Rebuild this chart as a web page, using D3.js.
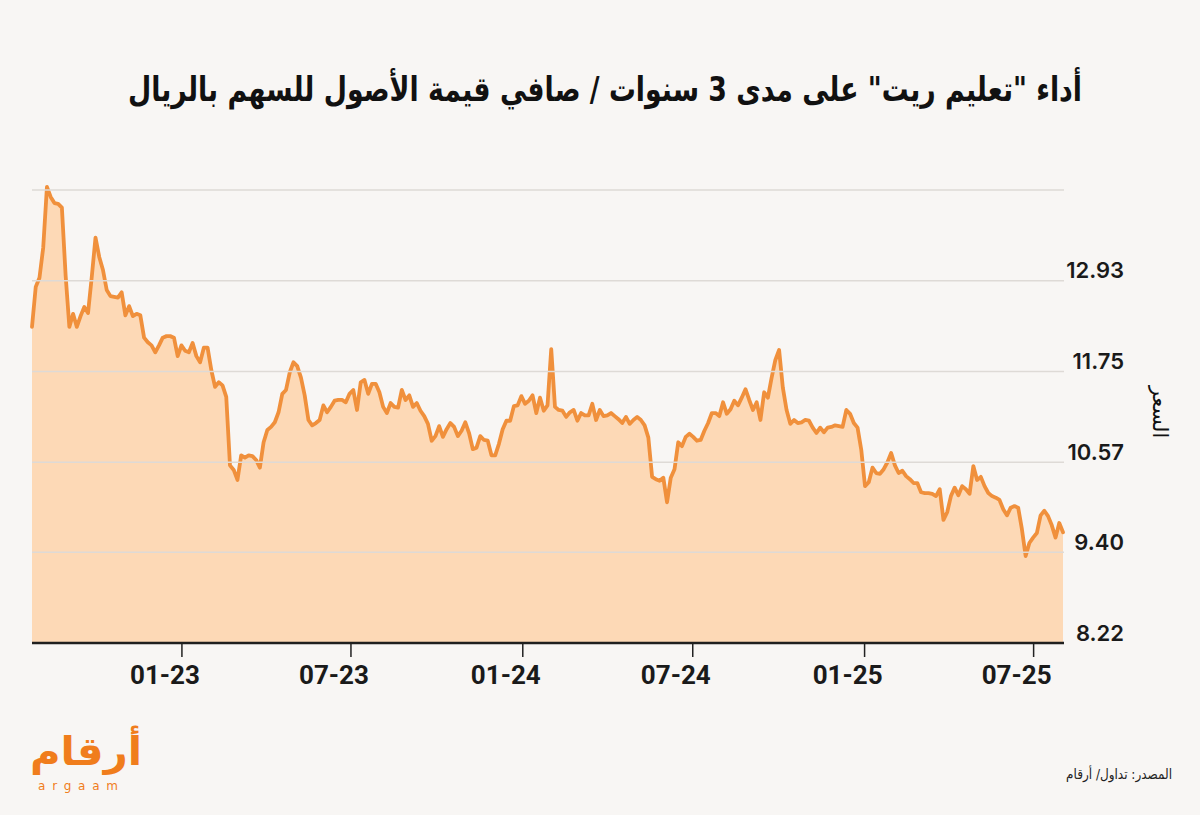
<!DOCTYPE html>
<html>
<head>
<meta charset="utf-8">
<script src="https://cdn.jsdelivr.net/npm/d3@7"></script>
<style>
  html, body { margin: 0; padding: 0; background: #f8f6f4; }
  svg { display: block; }
</style>
</head>
<body>
<div id="main"></div>
<script>
// texts
const title = 'أداء "تعليم ريت" على مدى 3 سنوات / صافي قيمة الأصول للسهم بالريال';
const yTitle = "السعر";
const source = "المصدر: تداول/ أرقام";
const logoText = "أرقام";
const logoLatin = "argaam";

// price samples, one every 4 days from 25 Jul 2022
const startDate = new Date(2022, 6, 25);
const stepDays = 4;
const prices = [
  12.33, 12.85, 12.97, 13.36, 14.15, 14.02, 13.94, 13.93, 13.88, 13.00,
  12.33, 12.50, 12.33, 12.47, 12.59, 12.51, 12.98, 13.49, 13.24, 13.07,
  12.81, 12.73, 12.72, 12.71, 12.78, 12.48, 12.60, 12.47, 12.50, 12.48,
  12.19, 12.13, 12.09, 12.00, 12.09, 12.19, 12.21, 12.21, 12.19, 11.95,
  12.09, 12.02, 12.00, 12.12, 11.95, 11.87, 12.06, 12.06, 11.77, 11.55,
  11.61, 11.57, 11.42, 10.53, 10.47, 10.34, 10.66, 10.63, 10.66, 10.65,
  10.60, 10.50, 10.83, 10.99, 11.03, 11.09, 11.22, 11.46, 11.51, 11.74,
  11.87, 11.82, 11.67, 11.44, 11.12, 11.05, 11.08, 11.12, 11.31, 11.22,
  11.29, 11.37, 11.38, 11.38, 11.35, 11.46, 11.51, 11.25, 11.61, 11.64,
  11.46, 11.59, 11.59, 11.48, 11.29, 11.21, 11.34, 11.29, 11.28, 11.51,
  11.38, 11.44, 11.29, 11.34, 11.24, 11.17, 11.07, 10.85, 10.91, 11.04,
  10.90, 11.00, 11.08, 11.03, 10.91, 10.98, 11.09, 10.95, 10.74, 10.76,
  10.91, 10.86, 10.85, 10.66, 10.66, 10.81, 11.00, 11.11, 11.11, 11.30,
  11.31, 11.43, 11.33, 11.37, 11.44, 11.21, 11.41, 11.24, 11.31, 12.04,
  11.29, 11.25, 11.24, 11.16, 11.22, 11.25, 11.11, 11.21, 11.18, 11.18,
  11.33, 11.12, 11.25, 11.17, 11.18, 11.21, 11.17, 11.13, 11.08, 11.16,
  11.07, 11.12, 11.16, 11.12, 11.05, 10.89, 10.38, 10.35, 10.33, 10.37,
  10.05, 10.37, 10.48, 10.83, 10.78, 10.90, 10.94, 10.90, 10.85, 10.86,
  10.98, 11.08, 11.21, 11.21, 11.17, 11.35, 11.20, 11.26, 11.37, 11.31,
  11.41, 11.52, 11.38, 11.25, 11.35, 11.12, 11.48, 11.41, 11.67, 11.90,
  12.03, 11.54, 11.25, 11.07, 11.12, 11.08, 11.09, 11.12, 11.11, 11.02,
  10.95, 11.02, 10.96, 11.02, 11.03, 11.05, 11.04, 11.03, 11.25, 11.20,
  11.08, 11.02, 10.73, 10.26, 10.31, 10.50, 10.43, 10.42, 10.48, 10.57,
  10.69, 10.53, 10.43, 10.46, 10.39, 10.35, 10.30, 10.30, 10.18, 10.17,
  10.17, 10.16, 10.13, 10.22, 9.82, 9.92, 10.13, 10.24, 10.14, 10.26,
  10.22, 10.16, 10.52, 10.34, 10.38, 10.26, 10.17, 10.13, 10.11, 10.08,
  9.96, 9.88, 9.98, 10.00, 9.98, 9.70, 9.35, 9.52, 9.59, 9.65,
  9.88, 9.94, 9.87, 9.75, 9.59, 9.78, 9.66
];

const yTicks = [8.22, 9.40, 10.57, 11.75, 12.93, 14.11];
const yTickLabels = ["8.22", "9.40", "10.57", "11.75", "12.93", ""];
const xTicks = ["2023-01-01", "2023-07-01", "2024-01-01", "2024-07-01", "2025-01-01", "2025-07-01"];

const width = 1200, height = 815;
const plotLeft = 32, plotRight = 1063, plotTop = 190, plotBottom = 643;

const data = prices.map((v, i) => ({ date: d3.timeDay.offset(startDate, i * stepDays), value: v }));
const parse = d3.timeParse("%Y-%m-%d");

const svg = d3.select("#main")
    .append("svg")
    .attr("width", width)
    .attr("height", height)
    .style("background", "#f8f6f4");

const x = d3.scaleTime()
    .domain(d3.extent(data, d => d.date))
    .range([plotLeft, plotRight]);
const y = d3.scaleLinear()
    .domain([yTicks[0], yTicks[yTicks.length - 1]])
    .range([plotBottom, plotTop]);

// title, squeezed to the reference width
svg.append("text")
    .attr("x", 1082)
    .attr("y", 101)
    .attr("direction", "rtl")
    .attr("text-anchor", "start")
    .attr("textLength", 954)
    .attr("lengthAdjust", "spacingAndGlyphs")
    .style("font-family", "'DejaVu Sans', sans-serif")
    .style("font-weight", "bold")
    .style("font-size", "34px")
    .attr("fill", "#111")
    .text(title);

// area + line
const area = d3.area()
    .x(d => x(d.date))
    .y0(y(yTicks[0]))
    .y1(d => y(d.value));
const line = d3.line()
    .x(d => x(d.date))
    .y(d => y(d.value));

svg.append("path")
    .datum(data)
    .attr("d", area)
    .attr("fill", "#fdd9b6");

svg.append("path")
    .datum(data)
    .attr("d", line)
    .attr("fill", "none")
    .attr("stroke", "#f0903c")
    .attr("stroke-width", 3.8)
    .attr("stroke-linejoin", "round")
    .attr("stroke-linecap", "round");

// grid on top
svg.append("g")
    .selectAll("line")
    .data(yTicks.slice(1))
    .join("line")
    .attr("x1", plotLeft)
    .attr("x2", plotRight + 1)
    .attr("y1", d => y(d))
    .attr("y2", d => y(d))
    .attr("stroke", "#dedad6")
    .attr("stroke-width", 1.5);

// y labels
svg.append("g")
    .selectAll("text")
    .data(yTicks)
    .join("text")
    .attr("x", 1124)
    .attr("y", d => y(d) - 10)
    .attr("dy", "0.35em")
    .attr("text-anchor", "end")
    .style("font-family", "Inter, sans-serif")
    .style("font-weight", 600)
    .style("font-size", "22px")
    .attr("fill", "#1a1a1a")
    .text((d, i) => yTickLabels[i]);

// y title
svg.append("text")
    .attr("transform", "translate(1160,412) rotate(90)")
    .attr("text-anchor", "middle")
    .attr("dy", "0.35em")
    .style("font-family", "'DejaVu Sans', sans-serif")
    .style("font-size", "21px")
    .attr("fill", "#111")
    .text(yTitle);

// x axis
const xAxis = d3.axisBottom(x)
    .tickValues(xTicks.map(parse))
    .tickFormat(d3.timeFormat("%m-%y"))
    .tickSize(14)
    .tickSizeOuter(0)
    .tickPadding(9);

const gx = svg.append("g")
    .attr("transform", `translate(0,${plotBottom})`)
    .call(xAxis);
gx.select(".domain").remove();
gx.selectAll(".tick line").attr("stroke", "#222").attr("stroke-width", 1.5);
gx.selectAll(".tick text")
    .attr("dx", -17)
    .attr("fill", "#1a1a1a")
    .style("font-family", "'Liberation Sans Narrow', 'Roboto', sans-serif")
    .style("font-weight", 700)
    .style("font-size", "26px");

svg.append("line")
    .attr("x1", plotLeft)
    .attr("x2", plotRight + 1)
    .attr("y1", y(yTicks[0]))
    .attr("y2", y(yTicks[0]))
    .attr("stroke", "#1f1f1f")
    .attr("stroke-width", 2.5);

// logo
svg.append("text")
    .attr("x", 30)
    .attr("y", 765)
    .attr("textLength", 112)
    .attr("lengthAdjust", "spacingAndGlyphs")
    .style("font-family", "'DejaVu Sans', sans-serif")
    .style("font-weight", "bold")
    .style("font-size", "40px")
    .attr("fill", "#f07d1c")
    .text(logoText);
svg.append("text")
    .attr("x", 38)
    .attr("y", 790)
    .attr("textLength", 80)
    .style("font-family", "'DejaVu Sans', sans-serif")
    .style("font-size", "12px")
    .attr("fill", "#f07d1c")
    .text(logoLatin);

// source
svg.append("text")
    .attr("x", 1172)
    .attr("y", 779)
    .attr("direction", "rtl")
    .attr("text-anchor", "start")
    .attr("textLength", 106)
    .attr("lengthAdjust", "spacingAndGlyphs")
    .style("font-family", "'DejaVu Sans', sans-serif")
    .style("font-size", "14px")
    .attr("fill", "#222")
    .text(source);
</script>
</body>
</html>
